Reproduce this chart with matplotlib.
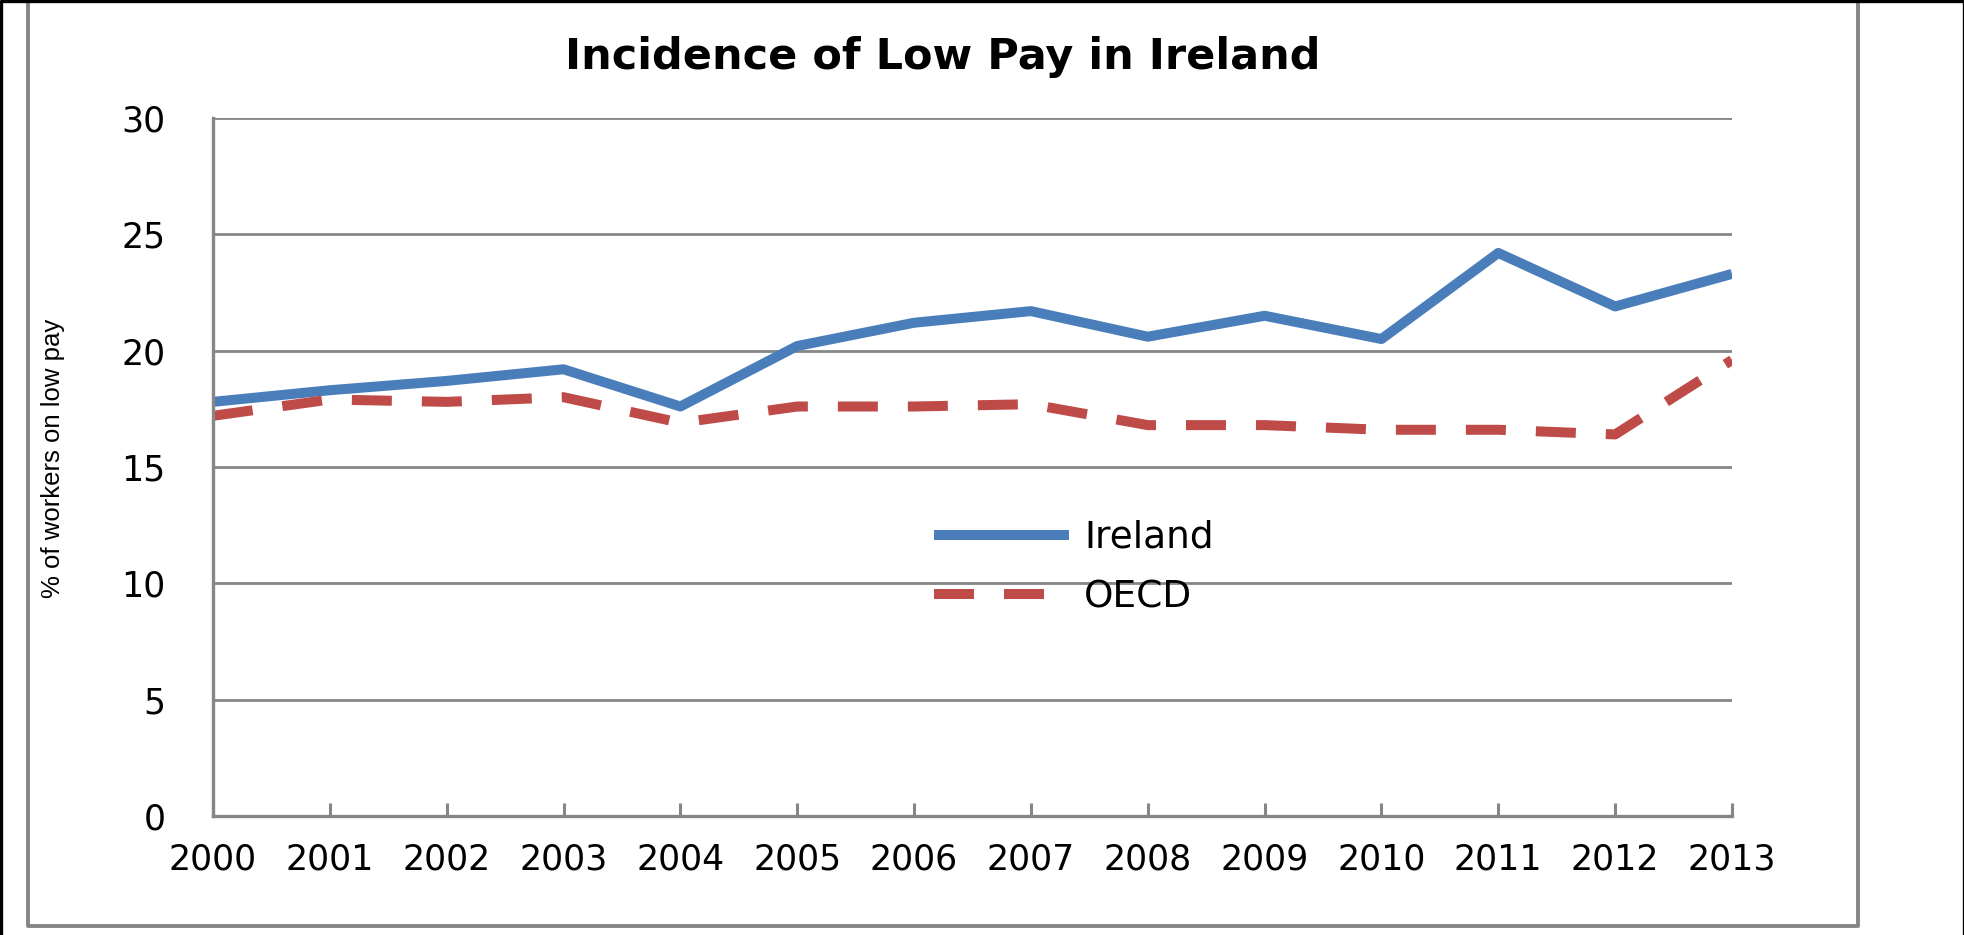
import matplotlib
matplotlib.use("Agg")
import matplotlib.pyplot as plt
from matplotlib.lines import Line2D

years = [2000, 2001, 2002, 2003, 2004, 2005, 2006, 2007, 2008, 2009, 2010, 2011, 2012, 2013]
ireland = [17.8, 18.3, 18.7, 19.2, 17.6, 20.2, 21.2, 21.7, 20.6, 21.5, 20.5, 24.2, 21.9, 23.3]
oecd = [17.2, 17.9, 17.8, 18.0, 16.9, 17.6, 17.6, 17.7, 16.8, 16.8, 16.6, 16.6, 16.4, 19.6]
y_ticks = [0, 5, 10, 15, 20, 25, 30]

W, H = 1965, 935
gray = "#868686"

fig = plt.figure(figsize=(W / 100, H / 100), dpi=100)
ax = fig.add_axes([213 / W, 1 - 816 / H, (1732 - 213) / W, (816 - 118) / H])

ax.plot(years, ireland, color="#4A7EBB", lw=7.2, label="Ireland", solid_capstyle="butt")
ax.plot(years, oecd, color="#BE4B48", lw=7.2, label="OECD", dashes=(4.0, 3.0))

ax.set_xlim(2000, 2013)
ax.set_ylim(0, 30)
ax.set_xticks(years)
ax.set_xticklabels([str(y) for y in years])
ax.set_yticks(y_ticks)
ax.grid(axis="y", color=gray, lw=2.0)
ax.set_axisbelow(True)

for s in ["top", "right"]:
    ax.spines[s].set_visible(False)
for s in ["left", "bottom"]:
    ax.spines[s].set_color(gray)
    ax.spines[s].set_linewidth(2.4)

ax.tick_params(axis="x", direction="in", length=9.5, width=2.2, color=gray,
               labelsize=25, pad=19)
ax.tick_params(axis="y", length=0, labelsize=25, pad=34)

fig.text(943 / W, 1 - 57 / H, "Incidence of Low Pay in Ireland", ha="center",
         va="center", fontsize=31, fontweight="bold")
fig.text(53 / W, 1 - 458 / H, "% of workers on low pay", rotation=90,
         ha="center", va="center", fontsize=18.5, family="Liberation Sans")

leg = ax.legend(loc="upper left", bbox_to_anchor=(934 / W, 1 - 520 / H),
                bbox_transform=fig.transFigure, frameon=False, fontsize=27,
                handlelength=3.6, handletextpad=0.4, labelspacing=0.62,
                borderpad=0, borderaxespad=0)

# outer frames
def fline(xs, ys, color, lw):
    fig.add_artist(Line2D([x / W for x in xs], [1 - y / H for y in ys],
                          transform=fig.transFigure, color=color, lw=lw))

fline([28, 28, 1858, 1858], [0, 926, 926, 0], gray, 2.8)
fline([1, 1, 1964, 1964], [935, 1, 1, 935], "black", 2.4)

fig.savefig("out.png", dpi=100)
